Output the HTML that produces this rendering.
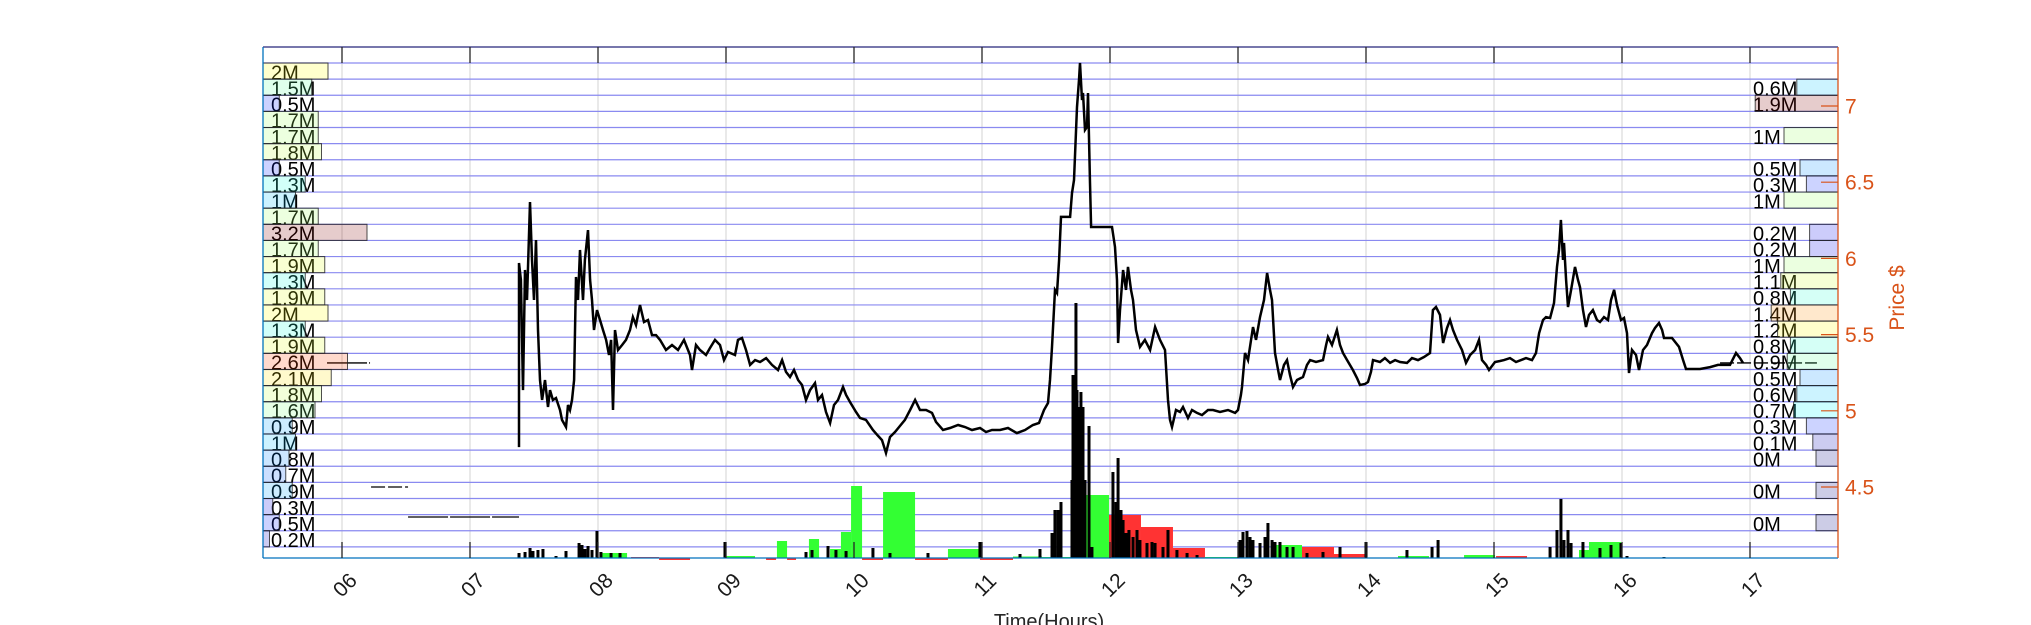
<!DOCTYPE html>
<html><head><meta charset="utf-8"><title>Price and volume by hour</title>
<style>html,body{margin:0;padding:0;background:#fff;}svg{display:block;font-family:"Liberation Sans",Arial,sans-serif;}</style>
</head><body>
<svg id="chart" xmlns="http://www.w3.org/2000/svg" width="2031" height="625" viewBox="0 0 2031 625">
<rect x="0" y="0" width="2031" height="625" fill="#ffffff"/>
<g id="grid"></g>
<g id="vol"></g>
<g id="price"></g>
<g id="prof"></g>
<g id="axes"></g>
<text x="1049" y="628" font-size="20" fill="#262626" text-anchor="middle">Time(Hours)</text>
<text x="0" y="0" font-size="21" fill="#D95319" text-anchor="middle" transform="translate(1904,298) rotate(-90)">Price $</text>
</svg>
<script>
const hourTicks=[6,7,8,9,10,11,12,13,14,15,16,17];
const hourLabels=['06','07','08','09','10','11','12','13','14','15','16','17'];
const priceTicks=[4.5,5,5.5,6,6.5,7];
const priceTickLabels=['4.5','5','5.5','6','6.5','7'];

const priceTimes=[7.383,7.383,7.398,7.414,7.430,7.445,7.469,7.484,7.500,7.516,7.531,7.547,7.563,7.586,7.609,7.625,7.648,7.672,7.703,7.719,7.750,7.766,7.781,7.797,7.813,7.828,7.844,7.859,7.883,7.898,7.922,7.938,7.953,7.969,7.992,8.016,8.039,8.063,8.086,8.102,8.117,8.133,8.156,8.188,8.219,8.250,8.273,8.297,8.328,8.359,8.391,8.422,8.453,8.484,8.531,8.578,8.625,8.672,8.719,8.734,8.766,8.797,8.844,8.875,8.914,8.953,8.984,9.016,9.070,9.094,9.125,9.156,9.188,9.227,9.266,9.313,9.359,9.406,9.438,9.469,9.500,9.531,9.563,9.594,9.625,9.656,9.695,9.719,9.750,9.781,9.813,9.844,9.875,9.914,9.938,9.969,10.016,10.047,10.094,10.148,10.188,10.219,10.250,10.281,10.320,10.352,10.398,10.438,10.477,10.516,10.563,10.609,10.641,10.695,10.750,10.813,10.867,10.922,10.984,11.031,11.078,11.141,11.203,11.273,11.336,11.398,11.445,11.484,11.516,11.531,11.547,11.570,11.586,11.602,11.617,11.688,11.703,11.719,11.742,11.758,11.766,11.781,11.789,11.805,11.820,11.828,11.844,11.852,12.016,12.039,12.055,12.063,12.078,12.102,12.125,12.141,12.164,12.180,12.203,12.234,12.273,12.313,12.352,12.391,12.430,12.453,12.469,12.484,12.516,12.547,12.570,12.609,12.641,12.680,12.719,12.766,12.805,12.859,12.922,12.977,13.000,13.023,13.031,13.055,13.078,13.117,13.141,13.172,13.203,13.227,13.250,13.266,13.289,13.313,13.328,13.359,13.383,13.406,13.430,13.461,13.508,13.539,13.563,13.609,13.664,13.688,13.703,13.734,13.773,13.797,13.820,13.852,13.898,13.930,13.953,13.992,14.016,14.039,14.055,14.109,14.148,14.188,14.227,14.266,14.320,14.359,14.406,14.453,14.500,14.523,14.547,14.578,14.602,14.633,14.656,14.680,14.711,14.750,14.781,14.813,14.852,14.883,14.906,14.938,14.961,15.008,15.047,15.078,15.125,15.172,15.211,15.250,15.297,15.328,15.352,15.383,15.406,15.438,15.469,15.492,15.508,15.523,15.539,15.547,15.563,15.578,15.602,15.633,15.656,15.672,15.695,15.719,15.742,15.773,15.805,15.828,15.859,15.891,15.914,15.938,15.961,15.992,16.016,16.039,16.055,16.078,16.109,16.133,16.164,16.195,16.234,16.258,16.289,16.313,16.328,16.391,16.445,16.477,16.500,16.609,16.688,16.750,16.844,16.891,16.922,16.945];
const priceValues=[4.762,5.970,5.858,5.136,5.924,5.727,6.370,5.990,5.727,6.121,5.530,5.202,5.071,5.202,5.025,5.136,5.071,5.084,5.005,4.940,4.894,5.038,5.005,5.071,5.202,5.878,5.727,6.055,5.727,5.990,6.186,5.858,5.727,5.530,5.661,5.596,5.530,5.465,5.366,5.465,5.005,5.530,5.399,5.432,5.465,5.530,5.615,5.563,5.694,5.583,5.596,5.497,5.497,5.465,5.399,5.432,5.399,5.465,5.366,5.268,5.432,5.399,5.366,5.412,5.465,5.432,5.333,5.386,5.366,5.465,5.478,5.399,5.301,5.333,5.320,5.346,5.301,5.268,5.333,5.255,5.222,5.268,5.202,5.169,5.071,5.136,5.182,5.071,5.104,4.992,4.920,5.038,5.071,5.156,5.104,5.058,4.992,4.953,4.940,4.874,4.835,4.808,4.723,4.828,4.861,4.894,4.940,5.005,5.071,5.005,5.005,4.986,4.927,4.874,4.887,4.907,4.894,4.874,4.887,4.861,4.874,4.874,4.887,4.854,4.874,4.907,4.920,5.005,5.051,5.202,5.419,5.793,5.773,5.990,6.272,6.272,6.429,6.514,6.993,7.171,7.282,7.039,7.085,6.843,6.862,7.085,6.495,6.206,6.206,6.075,5.858,5.445,5.661,5.924,5.793,5.944,5.793,5.727,5.530,5.419,5.465,5.399,5.550,5.465,5.399,5.071,4.940,4.894,5.005,4.992,5.025,4.953,5.005,4.986,4.972,5.005,5.005,4.992,5.005,4.986,5.005,5.104,5.156,5.379,5.333,5.550,5.465,5.615,5.727,5.904,5.793,5.727,5.379,5.268,5.202,5.301,5.333,5.235,5.156,5.202,5.222,5.301,5.333,5.320,5.333,5.432,5.484,5.432,5.530,5.432,5.379,5.333,5.268,5.215,5.169,5.176,5.189,5.255,5.333,5.320,5.346,5.314,5.333,5.320,5.314,5.346,5.333,5.353,5.379,5.661,5.681,5.629,5.445,5.543,5.596,5.530,5.465,5.399,5.314,5.366,5.399,5.465,5.333,5.301,5.268,5.320,5.327,5.333,5.346,5.320,5.333,5.346,5.333,5.379,5.510,5.596,5.615,5.609,5.707,5.944,6.055,6.252,5.990,6.101,5.858,5.681,5.793,5.944,5.858,5.812,5.661,5.550,5.629,5.661,5.596,5.583,5.615,5.596,5.727,5.793,5.694,5.596,5.609,5.510,5.248,5.399,5.366,5.268,5.399,5.432,5.510,5.543,5.576,5.530,5.478,5.478,5.419,5.333,5.274,5.274,5.287,5.301,5.301,5.379,5.346,5.314];

const refStart=[5.883,6.227,6.516,16.766];
const refEnd=[6.219,6.516,7.383,17.523];
const refPrice=[5.314,4.500,4.303,5.314];

const blockStart=[8.016,8.258,8.477,8.992,9.313,9.398,9.477,9.648,9.813,9.898,9.977,10.063,10.227,10.477,10.734,10.984,11.242,11.469,11.789,11.992,12.242,12.492,12.742,13.258,13.500,13.750,14.250,14.766,15.016,15.664,15.742];
const blockEnd=[8.227,8.477,8.719,9.227,9.391,9.477,9.547,9.727,9.898,9.977,10.063,10.227,10.477,10.734,10.984,11.242,11.469,11.789,11.992,12.242,12.492,12.742,13.000,13.500,13.750,14.000,14.492,15.008,15.258,15.742,15.992];
const blockVol=[5,1,-2,2,-2,17,-2,19,9,26,72,-2,66,-2,9,-2,1.5,1,63,43,31,10,1,13,11,4,2,3,2,8,16];
const blockSide=['buy','sell','sell','buy','sell','buy','sell','buy','buy','buy','buy','sell','buy','sell','buy','sell','buy','buy','buy','sell','sell','sell','buy','buy','sell','sell','buy','buy','sell','buy','buy'];

const tradeTimes=[7.383,7.430,7.469,7.492,7.531,7.570,7.672,7.750,7.852,7.875,7.898,7.922,7.953,7.992,8.023,8.102,8.172,8.992,9.625,9.672,9.797,9.859,9.938,10.148,10.281,10.578,10.984,11.297,11.453,11.547,11.570,11.594,11.617,11.703,11.711,11.734,11.742,11.758,11.773,11.789,11.805,11.836,11.859,12.023,12.047,12.063,12.086,12.102,12.125,12.148,12.180,12.211,12.234,12.289,12.328,12.352,12.414,12.453,12.523,12.602,12.680,13.016,13.039,13.070,13.094,13.117,13.172,13.211,13.234,13.266,13.289,13.328,13.383,13.430,13.539,13.664,13.797,14.000,14.320,14.516,14.563,15.438,15.492,15.523,15.547,15.578,15.602,15.695,15.828,15.914,15.992,16.039,16.328];
const tradeVol=[5,6,10,7,8,9,2,7,15,13,9,12,8,27,6,5,5,16,6,8,12,8,7,10,5,5,16,4,9,25,48,48,56,78,183,255,168,151,166,151,78,132,11,86,56,100,48,38,25,28,21,28,18,15,16,15,11,28,8,5,3,18,26,27,21,18,15,21,35,18,16,16,11,11,5,6,11,16,8,11,18,11,28,59,18,28,15,16,10,13,15,2,1];

const leftVols=[2,1.5,0.5,1.7,1.7,1.8,0.5,1.3,1,1.7,3.2,1.7,1.9,1.3,1.9,2,1.3,1.9,2.6,2.1,1.8,1.6,0.9,1,0.8,0.7,0.9,0.3,0.5,0.2];
const rightBins=[1,2,4,6,7,8,10,11,12,13,14,15,16,17,18,19,20,21,22,23,24,26,28];
const rightVols=[0.6,1.9,1,0.5,0.3,1,0.2,0.2,1,1.1,0.8,1.4,1.2,0.8,0.9,0.5,0.6,0.7,0.3,0.1,0,0,0];

const NS='http://www.w3.org/2000/svg';
const L=263,R=1838,T=47,B=558,BAND=63,ROWH=16.13;
function xS(h){return 342+(h-6)*128;}
function yS(p){return 106+(7-p)*152.4;}
function vS(v){return B-v*1;}
function rowTop(i){return BAND+i*ROWH;}
function mk(tag,attrs,parent){const e=document.createElementNS(NS,tag);for(const k in attrs)e.setAttribute(k,attrs[k]);parent.appendChild(e);return e;}
function clamp(v){return Math.max(0,Math.min(1,v));}
function jet(t){const r=clamp(1.5-Math.abs(4*t-3)),g=clamp(1.5-Math.abs(4*t-2)),b=clamp(1.5-Math.abs(4*t-1));return 'rgb('+Math.round(r*255)+','+Math.round(g*255)+','+Math.round(b*255)+')';}

const grid=document.getElementById('grid');
for(let i=0;i<hourTicks.length;i++){
  const x=xS(hourTicks[i]);
  const gl=mk('line',{x1:x,x2:x,y1:BAND,y2:B,stroke:'#dadada','stroke-width':1.2},grid);
  
  
}
for(let k=0;k<=30;k++){
  const y=rowTop(k);
  const hl=mk('line',{x1:L,x2:R,y1:y,y2:y,stroke:'#8a8af0','stroke-width':1.2},grid);
  
  
}

const vol=document.getElementById('vol');
for(let i=0;i<blockStart.length;i++){
  const x0=xS(blockStart[i]),x1=xS(blockEnd[i]);
  const y0=Math.min(vS(blockVol[i]),B),y1=Math.max(vS(blockVol[i]),B);
  const r=mk('rect',{x:x0,y:y0,width:Math.max(1,x1-x0),height:Math.max(1.5,y1-y0),fill:blockSide[i]==='buy'?'#33ff33':'#ff3333'},vol);
  
  
}
for(let i=0;i<tradeTimes.length;i++){
  const x=xS(tradeTimes[i]);
  const r=mk('rect',{x:x-1.5,y:vS(tradeVol[i]),width:3,height:tradeVol[i],fill:'#000'},vol);
  
  
}

const pg=document.getElementById('price');
let pts=[];
for(let i=0;i<priceTimes.length;i++)pts.push(xS(priceTimes[i]).toFixed(1)+','+yS(priceValues[i]).toFixed(1));
const pl=mk('polyline',{points:pts.join(' '),fill:'none',stroke:'#000','stroke-width':2.5,'stroke-linejoin':'miter'},pg);


for(let i=0;i<refStart.length;i++){
  const y=yS(refPrice[i]);
  const ln=mk('line',{x1:xS(refStart[i]),x2:xS(refEnd[i]),y1:y,y2:y,stroke:'#000','stroke-width':1.3,'stroke-dasharray':i===1||i===3?'14 3':'40 2'},pg);
  
  
}

const prof=document.getElementById('prof');
const lmax=Math.max(...leftVols);
for(let i=0;i<leftVols.length;i++){
  const y=rowTop(i);
  const t=mk('text',{x:271,y:y+16.3,'font-size':20,fill:'#000'},prof);
  t.textContent=leftVols[i]+'M';
  
  
  const r=mk('rect',{x:L,y:y,width:leftVols[i]*32.5,height:ROWH,fill:jet(leftVols[i]/lmax),'fill-opacity':0.2,stroke:'#222','stroke-opacity':0.8,'stroke-width':1},prof);
  
  
}
const rmax=Math.max(...rightVols);
for(let i=0;i<rightVols.length;i++){
  const y=rowTop(rightBins[i]);
  const t=mk('text',{x:1753,y:y+16.3,'font-size':20,fill:'#000'},prof);
  t.textContent=rightVols[i]+'M';
  
  
  const w=22+rightVols[i]*32;
  const r=mk('rect',{x:R-w,y:y,width:w,height:ROWH,fill:jet(rightVols[i]/rmax),'fill-opacity':0.2,stroke:'#222','stroke-opacity':0.8,'stroke-width':1},prof);
  
  
}

const ax=document.getElementById('axes');
let a;
a=mk('line',{x1:L,x2:R,y1:T,y2:T,stroke:'#26267a','stroke-width':1.3},ax);


a=mk('line',{x1:L,x2:L,y1:T,y2:B,stroke:'#0072BD','stroke-width':1.3},ax);


a=mk('line',{x1:L,x2:R,y1:B,y2:B,stroke:'#0072BD','stroke-width':1.3},ax);


a=mk('line',{x1:R,x2:R,y1:T,y2:B,stroke:'#D95319','stroke-width':1.3},ax);


for(let i=0;i<hourTicks.length;i++){
  const x=xS(hourTicks[i]);
  const t1=mk('line',{x1:x,x2:x,y1:T,y2:BAND,stroke:'#262626','stroke-width':1.3},ax);
  
  
  const t2=mk('line',{x1:x,x2:x,y1:B-16,y2:B,stroke:'#262626','stroke-width':1.3},ax);
  
  
  const lb=mk('text',{x:x+3,y:592,'font-size':21,fill:'#1a1a1a','text-anchor':'middle',transform:'rotate(-45 '+(x+3)+' 585)'},ax);
  lb.textContent=hourLabels[i];
  
  
}
for(let i=0;i<priceTicks.length;i++){
  const y=yS(priceTicks[i]);
  const tk=mk('line',{x1:R-17,x2:R,y1:y,y2:y,stroke:'#D95319','stroke-width':1.2},ax);
  
  
  const lb=mk('text',{x:1845,y:y+7.5,'font-size':21,fill:'#D95319'},ax);
  lb.textContent=priceTickLabels[i];
  
  
}
</script>
</body></html>
